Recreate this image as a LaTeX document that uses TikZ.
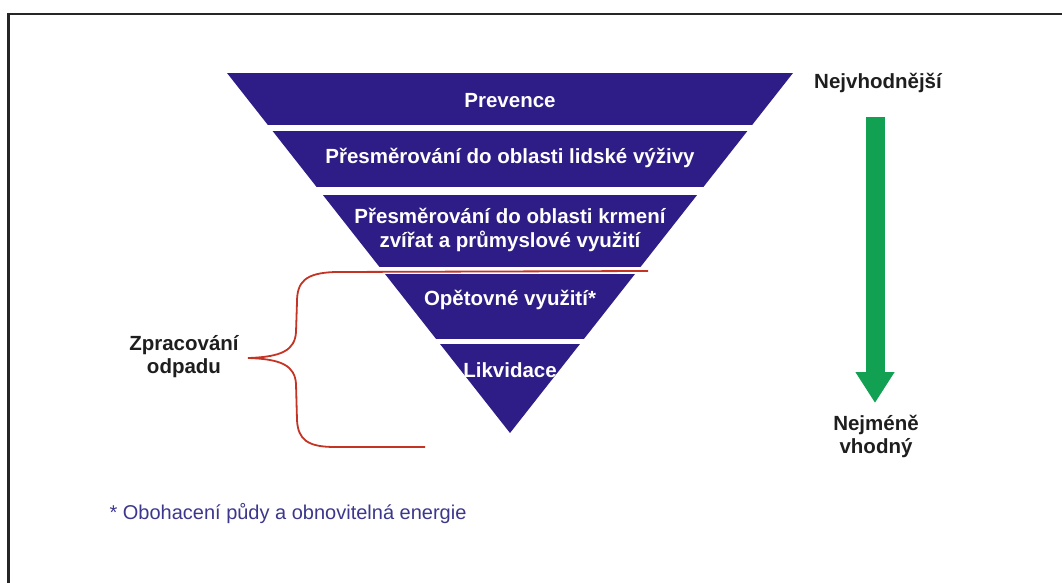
\documentclass[tikz,border=0pt]{standalone}
\usepackage{fontspec}
\setmainfont{Liberation Sans}
\usetikzlibrary{arrows.meta}
\definecolor{bandblue}{RGB}{46,29,134}
\definecolor{arrowgreen}{RGB}{18,160,82}
\definecolor{bracered}{RGB}{196,52,36}
\definecolor{notecol}{RGB}{60,55,140}
\definecolor{labelgray}{RGB}{30,30,30}
\begin{document}
\begin{tikzpicture}[x=1pt, y=-1pt,
		band/.style={fill=bandblue},
		bandtext/.style={text=white, font=\fontsize{20.5}{24}\selectfont\bfseries, align=center},
		sidetext/.style={text=labelgray, font=\fontsize{20.5}{23}\selectfont\bfseries, align=center},
		bigarrow/.style={draw=arrowgreen, line width=19pt, -{Triangle[length=31pt, width=37pt]}}]
	\useasboundingbox (0,0) rectangle (1062,583);
	% frame
	\draw[line width=2.5pt, black!85] (8.5,583) -- (8.5,14) -- (1062,14);
	% pyramid bands
	\begin{scope}
		\clip (227,73) -- (793,73) -- (510,433) -- cycle;
		\fill[band] (200,73) rectangle (820,125);
		\fill[band] (200,131) rectangle (820,187);
		\fill[band] (200,195) rectangle (820,267);
		\fill[band] (200,274) rectangle (820,339);
		\fill[band] (200,344) rectangle (820,440);
	\end{scope}
	\node[bandtext] (prevence) at (510,101) {Prevence};
	\node[bandtext] (vyziva) at (510,158) {Přesměrování do oblasti lidské výživy};
	\node[bandtext] (krmeni) at (510,230) {Přesměrování do oblasti krmení\\zvířat a průmyslové využití};
	\node[bandtext] (vyuziti) at (510,300) {Opětovné využití*};
	\node[bandtext] (likvidace) at (510,370) {Likvidace};
	% brace
	\draw[bracered, line width=1.8pt] (648,271) -- (335,272)
		.. controls (305,273) and (297,282) .. (297,302) -- (296,332)
		.. controls (295,350) and (282,357) .. (248,358)
		.. controls (282,359) and (295,366) .. (296,384) -- (297,420)
		.. controls (298,440) and (308,447) .. (335,447) -- (425,447);
	\node[sidetext] (zprac) at (184,357) {Zpracování\\odpadu};
	% arrow
	\node[sidetext] (nejvic) at (878,83) {Nejvhodnější};
	\node[sidetext] (nejmene) at (876,436) {Nejméně\\vhodný};
	\coordinate (arrowtop) at (875,117);
	\coordinate (arrowtip) at (875,403);
	\draw[bigarrow] (arrowtop) -- (arrowtip);
	% footnote
	\node[text=notecol, font=\fontsize{20}{23}\selectfont, anchor=west] (pozn) at (106,514) {* Obohacení půdy a obnovitelná energie};
\end{tikzpicture}
\end{document}
